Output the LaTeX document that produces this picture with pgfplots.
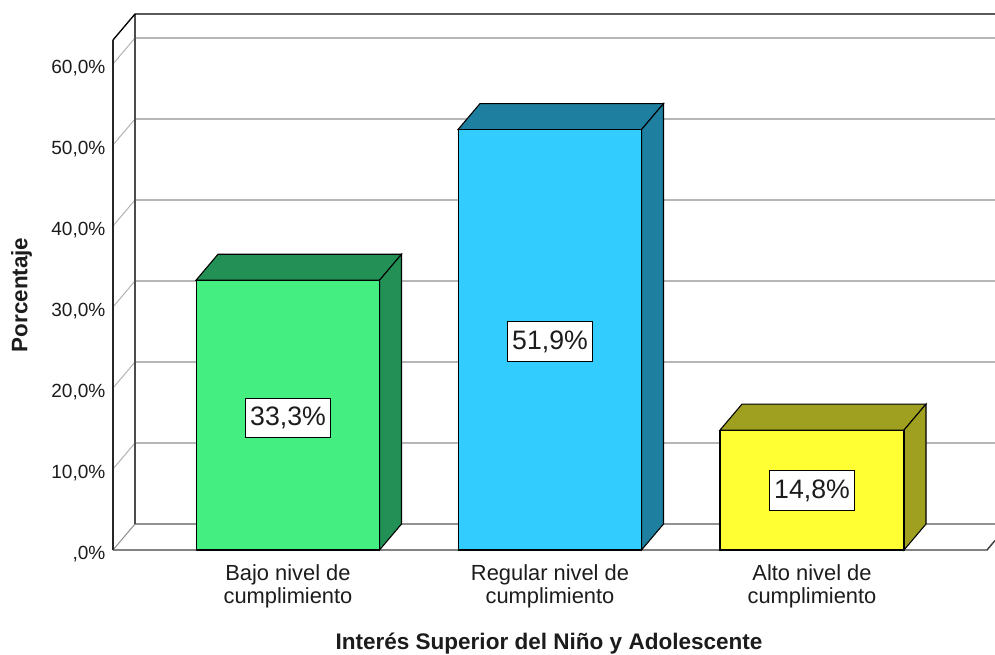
\documentclass[border=0pt]{standalone}
\usepackage{fontspec}
\setmainfont{Liberation Sans}
\usepackage{pgfplots}
\pgfplotsset{compat=1.18}
\definecolor{txt}{HTML}{1C1C1C}
\definecolor{gridc}{HTML}{B6B6B6}
\definecolor{greenF}{HTML}{44EE80}
\definecolor{greenD}{HTML}{239155}
\definecolor{blueF}{HTML}{33CCFF}
\definecolor{blueD}{HTML}{1F7FA0}
\definecolor{yellowF}{HTML}{FFFF33}
\definecolor{yellowD}{HTML}{A0A020}
\begin{document}
\begin{tikzpicture}
% x runs in reference pixels, y in percent (8.1 px per 1%); depth is 22 px / 3.21%
\useasboundingbox (-84.75pt,-78.75pt) rectangle (661.5pt,412.5pt);
\begin{axis}[
  at={(0,0)}, anchor=south west,
  scale only axis, width=661.5pt, height=412.5pt,
  xmin=113, xmax=995, ymin=0, ymax=67.9,
  clip=false,
  axis line style={draw=none}, tick style={draw=none},
  ytick={0,10,20,30,40,50,60},
  yticklabels={{,0\%},{10,0\%},{20,0\%},{30,0\%},{40,0\%},{50,0\%},{60,0\%}},
  yticklabel style={font=\fontsize{14.3}{16}\selectfont, text=txt, anchor=east, inner sep=0pt, yshift=-3pt, xshift=-5.5pt},
  xtick={288,550,812},
  xticklabels={{Bajo nivel de\\cumplimiento},{Regular nivel de\\cumplimiento},{Alto nivel de\\cumplimiento}},
  xticklabel style={font=\fontsize{16.4}{17.3}\selectfont, text=txt, align=center, anchor=north, inner sep=0pt, yshift=-10.5pt},
]
% back wall grid
\addplot[gridc, line width=1pt] coordinates {(135,13.21) (995,13.21)};
\addplot[gridc, line width=1pt] coordinates {(135,23.21) (995,23.21)};
\addplot[gridc, line width=1pt] coordinates {(135,33.21) (995,33.21)};
\addplot[gridc, line width=1pt] coordinates {(135,43.21) (995,43.21)};
\addplot[gridc, line width=1pt] coordinates {(135,53.21) (995,53.21)};
\addplot[gridc, line width=1pt] coordinates {(135,63.21) (995,63.21)};
\addplot[gridc!80!black, line width=1pt] coordinates {(135,3.21) (995,3.21)};
% side wall grid
\addplot[gridc, line width=0.8pt] coordinates {(113,10) (135,13.21)};
\addplot[gridc, line width=0.8pt] coordinates {(113,20) (135,23.21)};
\addplot[gridc, line width=0.8pt] coordinates {(113,30) (135,33.21)};
\addplot[gridc, line width=0.8pt] coordinates {(113,40) (135,43.21)};
\addplot[gridc, line width=0.8pt] coordinates {(113,50) (135,53.21)};
\addplot[gridc, line width=0.8pt] coordinates {(113,60) (135,63.21)};
\addplot[gridc!80!black, line width=0.8pt] coordinates {(113,0) (135,3.21)};
% frame
\addplot[black!70, line width=1.1pt] coordinates {(135,3.21) (135,66.17)};
\addplot[black, line width=1pt] coordinates {(113,62.96) (135,66.17) (995,66.17)};
\addplot[black!85, line width=1.4pt] coordinates {(113,0) (113,62.96)};
\addplot[black!75, line width=1.1pt] coordinates {(113,0) (987,0) (995,1.17)};
% bars: top and side faces, then the front
\addplot[fill=greenD, draw=black, line width=0.8pt] coordinates {(196,33.3) (218,36.51) (401.5,36.51) (379.5,33.3)} -- cycle;
\addplot[fill=greenD, draw=black, line width=0.8pt] coordinates {(379.5,0) (401.5,3.21) (401.5,36.51) (379.5,33.3)} -- cycle;
\addplot[ybar, bar width=137.6pt, bar shift=0pt, fill=greenF, draw=black, line width=0.8pt] coordinates {(287.8,33.3)};
\addplot[fill=blueD, draw=black, line width=0.8pt] coordinates {(458,51.9) (480,55.11) (663.5,55.11) (641.5,51.9)} -- cycle;
\addplot[fill=blueD, draw=black, line width=0.8pt] coordinates {(641.5,0) (663.5,3.21) (663.5,55.11) (641.5,51.9)} -- cycle;
\addplot[ybar, bar width=137.6pt, bar shift=0pt, fill=blueF, draw=black, line width=0.8pt] coordinates {(549.8,51.9)};
\addplot[fill=yellowD, draw=black, line width=0.8pt] coordinates {(720,14.8) (742,18.01) (926,18.01) (904,14.8)} -- cycle;
\addplot[fill=yellowD, draw=black, line width=0.8pt] coordinates {(904,0) (926,3.21) (926,18.01) (904,14.8)} -- cycle;
\addplot[ybar, bar width=138pt, bar shift=0pt, fill=yellowF, draw=black, line width=0.8pt] coordinates {(812,14.8)};
% value labels
\tikzset{val/.style={draw=black, fill=white, line width=0.7pt, inner sep=0pt, minimum width=63.5pt, minimum height=29.5pt, text=txt, font=\fontsize{20}{24}\selectfont}}
\node[val] at (axis cs:288,16.3) {\raisebox{-1.6pt}{33,3\%}};
\node[val] at (axis cs:550,25.75) {\raisebox{-1.6pt}{51,9\%}};
\node[val] at (axis cs:812,7.35) {\raisebox{-1.6pt}{14,8\%}};
% axis titles
\node[font=\bfseries\fontsize{16.8}{18}\selectfont, text=txt, rotate=90] at (axis cs:21.5,31.5) {Porcentaje};
\node[font=\bfseries\fontsize{16.9}{18}\selectfont, text=txt] at (axis cs:549,-11.5) {Interés Superior del Niño y Adolescente};
\end{axis}
\end{tikzpicture}
\end{document}
